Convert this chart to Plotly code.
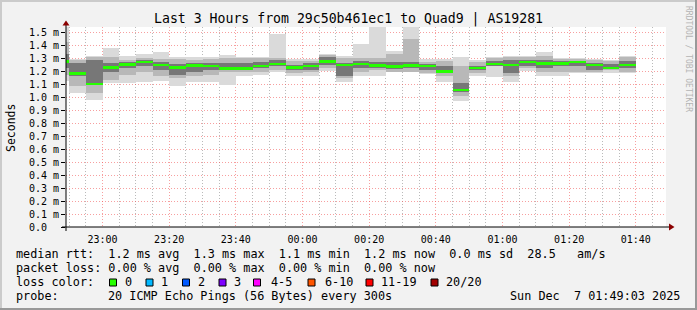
import plotly.graph_objects as go
import pandas as pd

# ---- data (ms) : 5-minute bins starting 22:45 (first bin partly outside range) ----
bin_start = pd.date_range("2025-12-06 22:45:00", periods=35, freq="5min")
median_ms = [1.273, 1.181, 1.099, 1.228, 1.251, 1.269, 1.245, 1.228, 1.243, 1.236,
             1.220, 1.220, 1.236, 1.252, 1.226, 1.236, 1.273, 1.244, 1.256, 1.242,
             1.235, 1.243, 1.236, 1.197, 1.052, 1.223, 1.252, 1.244, 1.269, 1.259,
             1.259, 1.269, 1.244, 1.223, 1.245]
max_ms = [1.535, 1.296, 1.318, 1.375, 1.315, 1.328, 1.343, 1.306, 1.306, 1.306,
          1.325, 1.306, 1.306, 1.483, 1.290, 1.290, 1.333, 1.318, 1.404, 1.535,
          1.355, 1.535, 1.290, 1.294, 1.307, 1.282, 1.310, 1.318, 1.318, 1.343,
          1.303, 1.297, 1.296, 1.281, 1.318]
min_ms = [1.120, 1.029, 0.978, 1.110, 1.106, 1.119, 1.120, 1.086, 1.119, 1.119,
          1.094, 1.158, 1.171, 1.191, 1.163, 1.165, 1.201, 1.119, 1.160, 1.158,
          1.191, 1.196, 1.176, 1.112, 0.973, 1.165, 1.153, 1.119, 1.201, 1.158,
          1.165, 1.183, 1.183, 1.183, 1.183]
mid_hi = [1.420, 1.285, 1.305, 1.304, 1.286, 1.299, 1.294, 1.294, 1.286, 1.294,
          1.299, 1.299, 1.299, 1.299, 1.278, 1.278, 1.324, 1.299, 1.299, 1.299,
          1.330, 1.450, 1.268, 1.278, 1.235, 1.273, 1.299, 1.304, 1.304, 1.312,
          1.294, 1.291, 1.286, 1.278, 1.304]
mid_lo = [1.170, 1.085, 1.030, 1.132, 1.170, 1.196, 1.158, 1.145, 1.158, 1.171,
          1.196, 1.196, 1.196, 1.209, 1.183, 1.196, 1.222, 1.145, 1.196, 1.209,
          1.196, 1.196, 1.183, 1.158, 1.004, 1.183, 1.235, 1.158, 1.222, 1.196,
          1.196, 1.196, 1.196, 1.209, 1.196]
dark_hi = [1.330, 1.260, 1.286, 1.260, 1.268, 1.286, 1.273, 1.253, 1.260, 1.260,
           1.260, 1.260, 1.273, 1.286, 1.247, 1.260, 1.304, 1.260, 1.278, 1.273,
           1.273, 1.268, 1.253, 1.235, 1.106, 1.242, 1.278, 1.286, 1.286, 1.286,
           1.278, 1.278, 1.260, 1.253, 1.278]
dark_lo = [1.220, 1.158, 1.106, 1.196, 1.222, 1.235, 1.209, 1.171, 1.196, 1.209,
           1.209, 1.209, 1.222, 1.235, 1.209, 1.209, 1.247, 1.158, 1.222, 1.222,
           1.218, 1.220, 1.209, 1.183, 1.042, 1.206, 1.242, 1.183, 1.235, 1.222,
           1.235, 1.235, 1.209, 1.222, 1.222]

y_tick_vals = [0.0, 0.1, 0.2, 0.3, 0.4, 0.5, 0.6, 0.7, 0.8, 0.9, 1.0, 1.1, 1.2, 1.3, 1.4, 1.5]
y_tick_text = ["0.0\u00a0\u00a0", "0.1 m", "0.2 m", "0.3 m", "0.4 m", "0.5 m", "0.6 m", "0.7 m",
               "0.8 m", "0.9 m", "1.0 m", "1.1 m", "1.2 m", "1.3 m", "1.4 m", "1.5 m"]

loss_labels = ["0", "1", "2", "3", "4-5", "6-10", "11-19", "20/20"]
loss_colors = ["#26ff00", "#00b8ff", "#0059ff", "#7e00ff", "#ff00ff", "#ff5500", "#ff0000", "#a10000"]

title_text = "Last 3 Hours from 29c50b461ec1 to Quad9 | AS19281"
line_rtt = "median rtt:  1.2 ms avg  1.3 ms max  1.1 ms min  1.2 ms now  0.0 ms sd  28.5   am/s"
line_loss = "packet loss: 0.00 % avg  0.00 % max  0.00 % min  0.00 % now"
probe_desc = "20 ICMP Echo Pings (56 Bytes) every 300s"
stamp = "Sun Dec  7 01:49:03 2025"

# ---- geometry helpers (pixel -> paper) ----
W, H = 697, 310
L, R, T, B = 66, 31, 27, 83
PW, PH = W - L - R, H - T - B


def px(x):
    return (x - L) / PW


def py(y):
    return (H - B - y) / PH


def nb(s):
    return s.replace(" ", "\u00a0")


MONO = "DejaVu Sans Mono"
centers = [t + pd.Timedelta(minutes=2.5) for t in bin_start]
BW = 300000

fig = go.Figure()


def band(lo, hi, color):
    fig.add_trace(go.Bar(x=centers, base=lo, y=[h - l for h, l in zip(hi, lo)],
                         width=BW, marker=dict(color=color, line=dict(width=0)),
                         showlegend=False, hoverinfo="skip"))


band(min_ms, max_ms, "#dadada")
band(mid_lo, mid_hi, "#b8b8b8")
band(dark_lo, dark_hi, "#777777")
mthick = 0.018
band([m - mthick / 2 for m in median_ms], [m + mthick / 2 for m in median_ms], loss_colors[0])

fig.update_layout(
    width=W, height=H,
    margin=dict(l=L, r=R, t=T, b=B, pad=0),
    paper_bgcolor="#f2f2f2", plot_bgcolor="#ffffff",
    barmode="overlay", bargap=0,
    showlegend=False,
    font=dict(family=MONO, size=10, color="#000000"),
)

DOT = "1px,2px"
fig.update_xaxes(
    type="date",
    range=["2025-12-06 22:49:03", "2025-12-07 01:49:03"],
    tick0="2025-12-06 23:00:00", dtick=1200000, tickformat="%H:%M",
    showgrid=True, gridcolor="rgba(240,80,80,0.55)", griddash=DOT, gridwidth=1,
    minor=dict(dtick=300000, tick0="2025-12-06 23:00:00", showgrid=True,
               gridcolor="rgba(130,130,130,0.55)", griddash=DOT, gridwidth=1),
    ticks="outside", ticklen=3, tickcolor="rgba(0,0,0,0)",
    tickfont=dict(family=MONO, size=10, color="#000000"),
    showline=False, zeroline=False, fixedrange=True,
)
fig.update_yaxes(
    range=[0, PH / 130.0],
    tickvals=y_tick_vals, ticktext=y_tick_text,
    showgrid=True, gridcolor="rgba(240,80,80,0.55)", griddash=DOT, gridwidth=1,
    ticks="outside", ticklen=4, tickcolor="#000000", tickwidth=1,
    tickfont=dict(family=MONO, size=10, color="#000000"),
    showline=False, zeroline=False, fixedrange=True,
)

shapes = []
# axes lines
shapes.append(dict(type="line", xref="paper", yref="paper", x0=px(62), x1=px(670), y0=py(227), y1=py(227),
                   line=dict(color="#000000", width=1)))
shapes.append(dict(type="line", xref="paper", yref="paper", x0=px(66), x1=px(66), y0=py(231), y1=py(24),
                   line=dict(color="#000000", width=1)))
# arrows
shapes.append(dict(type="path", xref="paper", yref="paper",
                   path=f"M {px(62.5)} {py(25.5)} L {px(69.5)} {py(25.5)} L {px(66)} {py(20.5)} Z",
                   fillcolor="#8b0000", line=dict(width=0)))
shapes.append(dict(type="path", xref="paper", yref="paper",
                   path=f"M {px(669)} {py(223.5)} L {px(669)} {py(230.5)} L {px(674.5)} {py(227)} Z",
                   fillcolor="#8b0000", line=dict(width=0)))
# frame
shapes.append(dict(type="line", xref="paper", yref="paper", x0=px(0), x1=px(W), y0=py(1), y1=py(1),
                   line=dict(color="#cbcbcb", width=2)))
shapes.append(dict(type="line", xref="paper", yref="paper", x0=px(1), x1=px(1), y0=py(0), y1=py(H),
                   line=dict(color="#cbcbcb", width=2)))
shapes.append(dict(type="line", xref="paper", yref="paper", x0=px(0), x1=px(W), y0=py(H - 1), y1=py(H - 1),
                   line=dict(color="#999999", width=2)))
shapes.append(dict(type="line", xref="paper", yref="paper", x0=px(W - 1), x1=px(W - 1), y0=py(0), y1=py(H),
                   line=dict(color="#999999", width=2)))

annotations = []


def text(x, y, s, size=11.8, anchor="left", color="#000000", angle=0):
    annotations.append(dict(xref="paper", yref="paper", x=px(x), y=py(y), text=nb(s),
                            showarrow=False, xanchor=anchor, yanchor="middle", textangle=angle,
                            font=dict(family=MONO, size=size, color=color), borderpad=0))


text(348.5, 19.5, title_text, size=13.2, anchor="center")
text(11, 128, "Seconds", size=11.5, anchor="center", angle=-90)
text(689, 59, "RRDTOOL / TOBI OETIKER", size=8, anchor="center", color="#b4b4b4", angle=90)

text(15, 254.3, line_rtt)
text(15, 268, line_loss)
text(15, 282.3, "loss color:")
text(15, 295.7, "probe:")
text(106.5, 295.7, probe_desc)
text(681, 295.7, stamp, anchor="right")

sq_x = [109.5, 146, 182.5, 219, 253.5, 308, 366, 431]
lab_x = [123.5, 159.5, 196.5, 232.5, 269.5, 323.5, 379.5, 445]
for c, lbl, sx, lx in zip(loss_colors, loss_labels, sq_x, lab_x):
    shapes.append(dict(type="rect", xref="paper", yref="paper", x0=px(sx), x1=px(sx + 7),
                       y0=py(286), y1=py(279), fillcolor=c, line=dict(color="#000000", width=1)))
    text(lx, 282.3, lbl)

fig.update_layout(shapes=shapes, annotations=annotations)
fig.write_html("out.html")
